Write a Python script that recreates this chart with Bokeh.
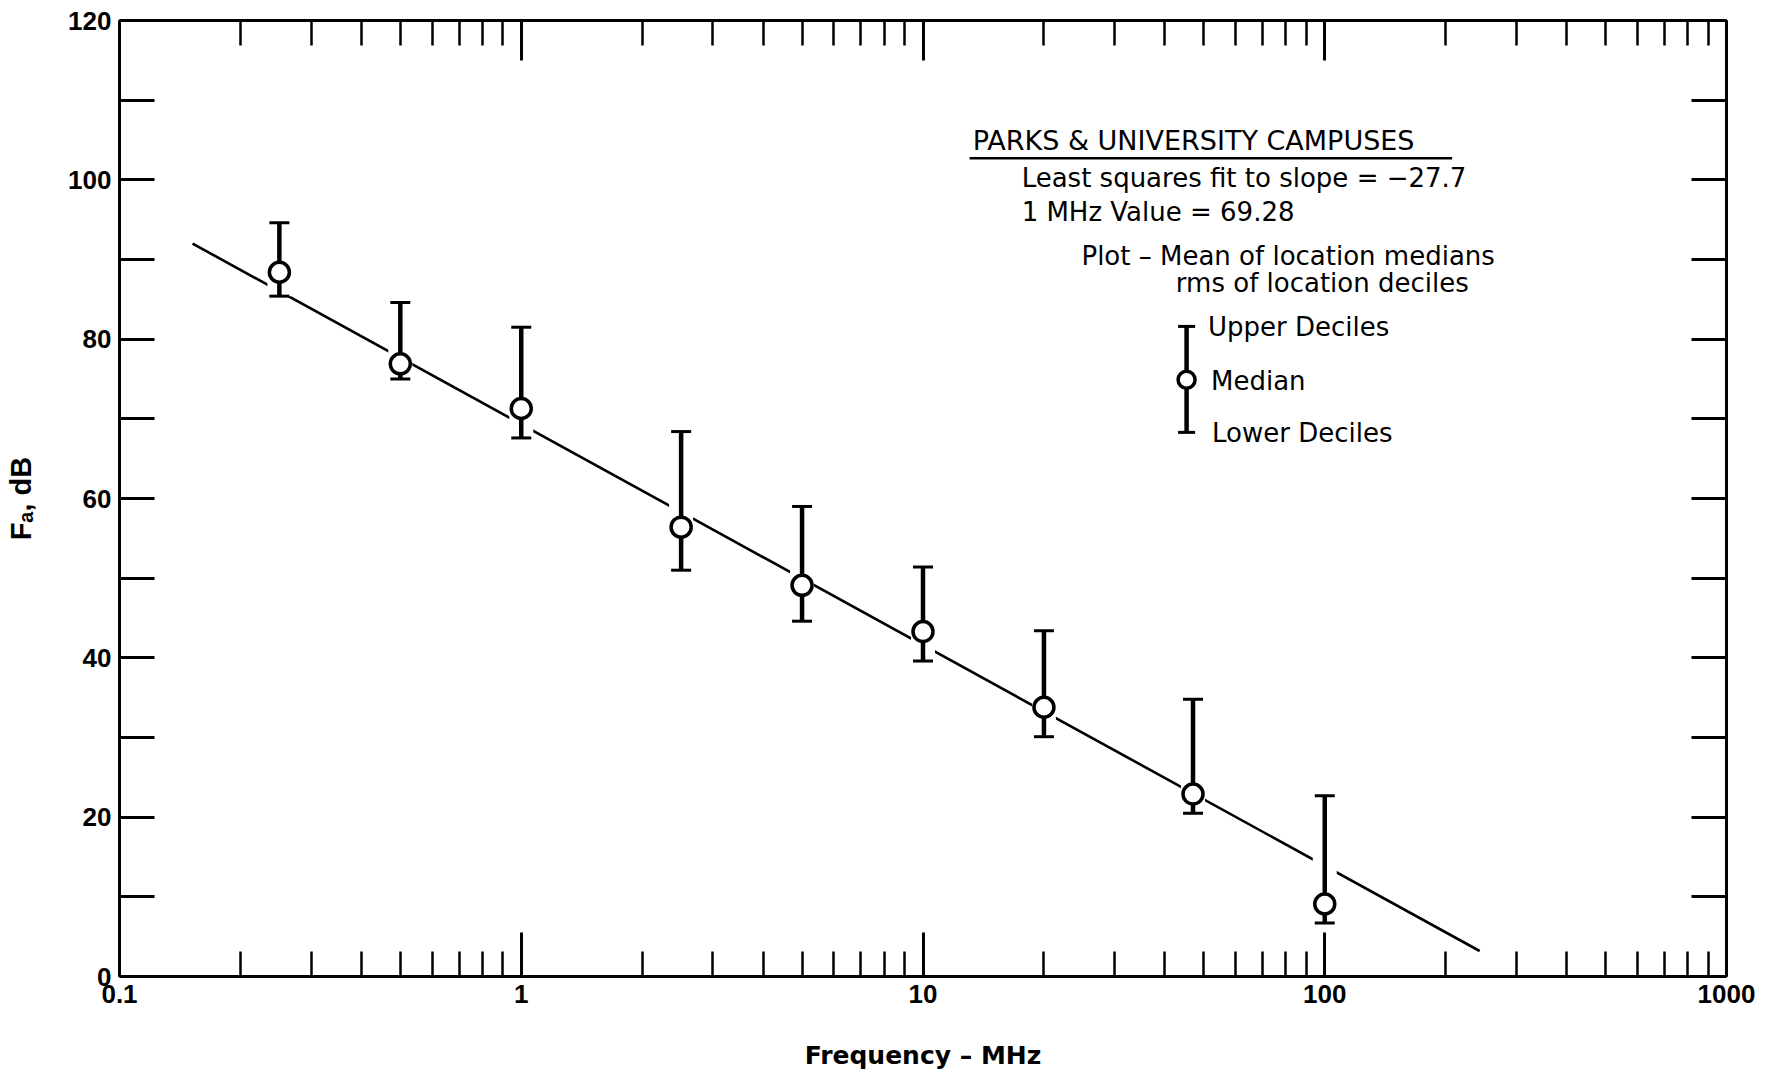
from bokeh.plotting import figure
from bokeh.models import (FixedTicker, LogAxis, LinearAxis, Label, Range1d)
from bokeh.embed import file_html
from bokeh.resources import INLINE

# ---------------- data ----------------
freq_mhz = [0.25, 0.5, 1, 2.5, 5, 10, 20, 47, 100]
median_db = [88.4, 76.9, 71.3, 56.4, 49.1, 43.3, 33.8, 22.9, 9.1]
upper_db = [94.6, 84.6, 81.5, 68.4, 59.0, 51.4, 43.4, 34.8, 22.7]
lower_db = [85.4, 75.0, 67.6, 51.0, 44.6, 39.6, 30.1, 20.5, 6.7]

# least squares fit line (slope -27.7, 1 MHz value 69.28), endpoints
fit_freq = [0.152, 243]
fit_db = [92.0, 3.2]

x_major = [0.1, 1, 10, 100, 1000]
x_minor = [0.2, 0.3, 0.4, 0.5, 0.6, 0.7, 0.8, 0.9,
           2, 3, 4, 5, 6, 7, 8, 9,
           20, 30, 40, 50, 60, 70, 80, 90,
           200, 300, 400, 500, 600, 700, 800, 900]
x_labels = {0.1: "0.1", 1: "1", 10: "10", 100: "100", 1000: "1000"}
y_major = [0, 20, 40, 60, 80, 100, 120]
y_minor = [10, 30, 50, 70, 90, 110]

title_text = "PARKS & UNIVERSITY CAMPUSES"
note_lines = ["Least squares fit to slope = \u221227.7",
              "1 MHz  Value = 69.28",
              "Plot \u2013 Mean of location medians",
              "rms of location deciles"]
note_x = [17.6, 17.6, 24.8, 42.6]
note_y = [100.2, 96.0, 90.5, 87.1]
title_x, title_y = 13.3, 104.9
underline_x = [13.06, 207.5]
underline_y = [102.7, 102.7]

legend_x = [45.3]
legend_upper = [81.6]
legend_median = [74.9]
legend_lower = [68.3]
legend_texts = ["Upper Deciles", "Median", "Lower Deciles"]
legend_text_x = [51.2, 52.1, 52.4]
legend_text_y = [81.5, 74.8, 68.2]

x_title = "Frequency \u2013 MHz"
y_title = "F\u2090, dB"

# ---------------- figure ----------------
TICK_FONT = "Liberation Sans"
NOTE_FONT = "DejaVu Sans"

p = figure(width=1770, height=1073, x_axis_type="log",
           x_range=Range1d(0.1, 1000), y_range=Range1d(0, 120),
           output_backend="svg", toolbar_location=None,
           min_border_left=119, min_border_right=44,
           min_border_top=20, min_border_bottom=97)
p.xgrid.visible = False
p.ygrid.visible = False
p.outline_line_color = None
p.background_fill_color = "white"
p.border_fill_color = "white"

def style_axis(ax, major_in, minor_in):
    ax.axis_line_width = 3
    ax.axis_line_color = "black"
    ax.major_tick_in = major_in
    ax.major_tick_out = 0
    ax.minor_tick_in = minor_in
    ax.minor_tick_out = 0
    ax.major_tick_line_width = 3
    ax.minor_tick_line_width = 2.5
    ax.major_tick_line_color = "black"
    ax.minor_tick_line_color = "black"

xb = p.xaxis[0]
xb.ticker = FixedTicker(ticks=x_major, minor_ticks=x_minor)
xb.major_label_overrides = x_labels
style_axis(xb, 44, 25)
xb.major_label_text_font = TICK_FONT
xb.major_label_text_font_style = "bold"
xb.major_label_text_font_size = "26px"
xb.major_label_text_color = "black"
xb.major_label_standoff = 8
xb.axis_label = x_title
xb.axis_label_text_font = NOTE_FONT
xb.axis_label_text_font_style = "bold"
xb.axis_label_text_font_size = "25px"
xb.axis_label_text_color = "black"
xb.axis_label_standoff = 35

yl = p.yaxis[0]
yl.ticker = FixedTicker(ticks=y_major, minor_ticks=y_minor)
style_axis(yl, 35, 35)
yl.minor_tick_line_width = 3
yl.major_label_text_font = TICK_FONT
yl.major_label_text_font_style = "bold"
yl.major_label_text_font_size = "26px"
yl.major_label_text_color = "black"
yl.major_label_standoff = 8
yl.axis_label = y_title
yl.axis_label_text_font = TICK_FONT
yl.axis_label_text_font_style = "bold"
yl.axis_label_text_font_size = "29px"
yl.axis_label_text_color = "black"
yl.axis_label_standoff = 28

xt = LogAxis(ticker=FixedTicker(ticks=x_major, minor_ticks=x_minor))
style_axis(xt, 40, 25)
xt.major_label_text_font_size = "1px"
xt.major_label_text_color = None
xt.major_label_standoff = 0
p.add_layout(xt, "above")

yr = LinearAxis(ticker=FixedTicker(ticks=y_major, minor_ticks=y_minor))
style_axis(yr, 35, 35)
yr.minor_tick_line_width = 3
yr.major_label_text_font_size = "1px"
yr.major_label_text_color = None
yr.major_label_standoff = 0
p.add_layout(yr, "right")

# ---------------- marks ----------------
p.line(fit_freq, fit_db, line_color="black", line_width=2.6)
# white casing behind the decile bars: the drafted fit line is broken where it meets them
p.segment(freq_mhz, lower_db, freq_mhz, upper_db, line_color="white", line_width=24, line_cap="butt")
p.segment(freq_mhz, lower_db, freq_mhz, upper_db, line_color="black", line_width=4.5)
p.scatter(freq_mhz, upper_db, marker="dash", size=20, line_color="black", line_width=3)
p.scatter(freq_mhz, lower_db, marker="dash", size=20, line_color="black", line_width=3)
p.scatter(freq_mhz, median_db, marker="circle", size=20, fill_color="white",
          line_color="black", line_width=3.5)

# legend sample
p.segment(legend_x, legend_lower, legend_x, legend_upper, line_color="black", line_width=4.5)
p.scatter(legend_x, legend_upper, marker="dash", size=17, line_color="black", line_width=3)
p.scatter(legend_x, legend_lower, marker="dash", size=17, line_color="black", line_width=3)
p.scatter(legend_x, legend_median, marker="circle", size=17, fill_color="white",
          line_color="black", line_width=3.5)

# ---------------- texts ----------------
p.add_layout(Label(x=title_x, y=title_y, text=title_text, text_font=NOTE_FONT,
                   text_font_size="27px", text_baseline="middle", text_align="left",
                   text_color="black"))
p.line(underline_x, underline_y, line_color="black", line_width=2.5)
for t, xx, yy in zip(note_lines, note_x, note_y):
    p.add_layout(Label(x=xx, y=yy, text=t, text_font=NOTE_FONT, text_font_size="26px",
                       text_baseline="middle", text_align="left", text_color="black"))
for t, xx, yy in zip(legend_texts, legend_text_x, legend_text_y):
    p.add_layout(Label(x=xx, y=yy, text=t, text_font=NOTE_FONT, text_font_size="26px",
                       text_baseline="middle", text_align="left", text_color="black"))

open("out.html", "w").write(file_html(p, INLINE))
